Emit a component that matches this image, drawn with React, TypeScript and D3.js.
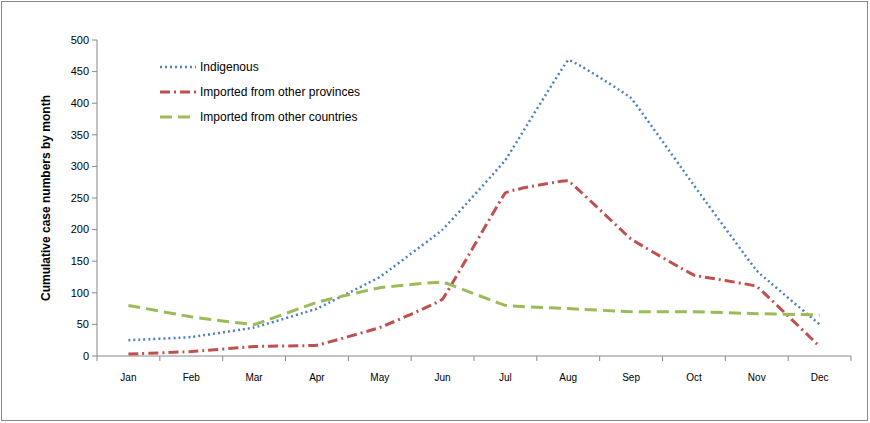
import React from "react";
import * as d3 from "d3";

const months = ["Jan","Feb","Mar","Apr","May","Jun","Jul","Aug","Sep","Oct","Nov","Dec"];
const indigenous = [25, 30, 45, 75, 125, 200, 310, 468, 408, 270, 135, 50];
const provinces = [3, 7, 15, 17, 45, 90, 258, 277, 185, 128, 110, 15];
const countries = [80, 62, 50, 85, 108, 117, 80, 75, 70, 70, 67, 65];
const yTicks = [0, 50, 100, 150, 200, 250, 300, 350, 400, 450, 500];

const series = [
  { name: "Indigenous", values: indigenous, color: "#4F81BD", dash: "2,3", width: 2.5 },
  { name: "Imported from other provinces", values: provinces, color: "#C0504D", dash: "10,4,2,4", width: 3 },
  { name: "Imported from other countries", values: countries, color: "#9BBB59", dash: "12,6", width: 3 },
];

export default function App() {
  const W = 870, H = 423;
  const left = 97, right = 851, top = 40, bottom = 356;
  const x = d3.scaleBand().domain(months).range([left, right]);
  const y = d3.scaleLinear().domain([0, 500]).range([bottom, top]);
  const line = d3.line<number>()
    .x((_, i) => x(months[i])! + x.bandwidth() / 2)
    .y((d) => y(d))
    .curve(d3.curveCardinal.tension(0.85));
  const font = "'Liberation Sans', Arial, sans-serif";
  return (
    <svg width={W} height={H} style={{ position: "absolute", left: 0, top: 0, fontFamily: font }}>
      <rect x={1.5} y={1.5} width={W - 4} height={H - 4} fill="#fff" stroke="#888" />
      <line x1={left} x2={left} y1={top} y2={bottom} stroke="#888" />
      <line x1={left} x2={right} y1={bottom} y2={bottom} stroke="#888" />
      {yTicks.map((t) => (
        <g key={t}>
          <line x1={left - 5} x2={left} y1={y(t)} y2={y(t)} stroke="#888" />
          <text x={left - 8} y={y(t)} dy="0.35em" textAnchor="end" fontSize={11}>{t}</text>
        </g>
      ))}
      {months.map((m) => (
        <g key={m}>
          <line x1={x(m)!} x2={x(m)!} y1={bottom} y2={bottom + 5} stroke="#888" />
          <text x={x(m)! + x.bandwidth() / 2} y={bottom + 25} textAnchor="middle" fontSize={10}>{m}</text>
        </g>
      ))}
      <line x1={right} x2={right} y1={bottom} y2={bottom + 5} stroke="#888" />
      <text transform={`translate(50,${(top + bottom) / 2}) rotate(-90)`} textAnchor="middle" fontSize={12} fontWeight="bold">
        Cumulative case numbers by month
      </text>
      {series.map((s) => (
        <path key={s.name} d={line(s.values)!} fill="none" stroke={s.color} strokeWidth={s.width} strokeDasharray={s.dash} />
      ))}
      {series.map((s, i) => (
        <g key={s.name} transform={`translate(160,${67 + i * 25})`}>
          <line x1={0} x2={36} y1={0} y2={0} stroke={s.color} strokeWidth={s.width} strokeDasharray={s.dash} />
          <text x={40} y={0} dy="0.35em" fontSize={12}>{s.name}</text>
        </g>
      ))}
    </svg>
  );
}
